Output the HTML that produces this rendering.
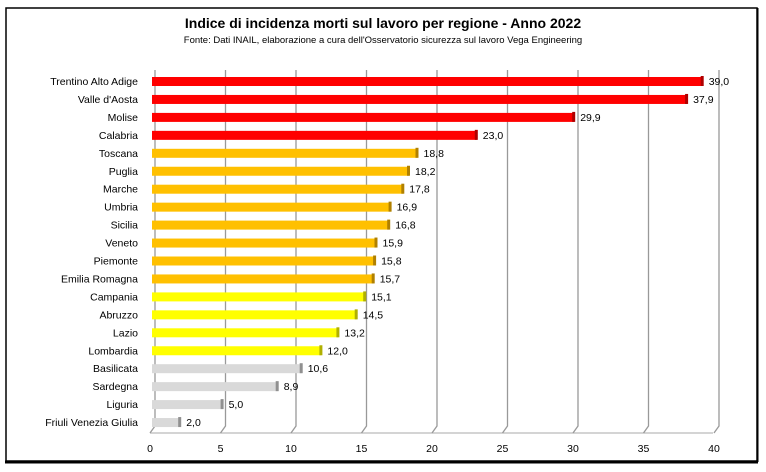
<!DOCTYPE html>
<html><head><style>
body{margin:0;background:#fff;}
svg{display:block;font-family:"Liberation Sans",sans-serif;}
.r{fill:#ff0000}.rc{fill:#b00000}.o{fill:#ffc000}.oc{fill:#b08000}.y{fill:#ffff00}.yc{fill:#b0b000}.g{fill:#d9d9d9}.gc{fill:#909090}
.l{text-anchor:end}
</style></head><body>
<svg width="766" height="472" xmlns="http://www.w3.org/2000/svg">
<rect width="766" height="472" fill="#fff"/>
<rect x="6" y="8" width="751" height="453" fill="none" stroke="#000" stroke-width="1.5"/>
<line x1="5" y1="462" x2="758" y2="462" stroke="#000" stroke-width="3"/>
<line x1="757.5" y1="8" x2="757.5" y2="462" stroke="#000" stroke-width="2"/>
<text x="383" y="28" text-anchor="middle" font-size="14" font-weight="bold">Indice di incidenza morti sul lavoro per regione - Anno 2022</text>
<text x="383" y="43" text-anchor="middle" font-size="9.5">Fonte: Dati INAIL, elaborazione a cura dell'Osservatorio sicurezza sul lavoro Vega Engineering</text>
<g stroke="#999" stroke-width="1.3" fill="none">
<line x1="150" y1="433" x2="713" y2="433" stroke="#bbb"/>
<path d="M155,70 V426 L150,433"/>
<path d="M225.5,70 V426 L220.5,433"/>
<path d="M296,70 V426 L291,433"/>
<path d="M366.5,70 V426 L361.5,433"/>
<path d="M437,70 V426 L432,433"/>
<path d="M507.5,70 V426 L502.5,433"/>
<path d="M578,70 V426 L573,433"/>
<path d="M648.5,70 V426 L643.5,433"/>
<path d="M719,70 V426 L714,433"/>
</g>
<g font-size="10.5" text-anchor="middle" fill="#000">
<text x="150" y="452">0</text><text x="220.5" y="452">5</text><text x="291" y="452">10</text><text x="361.5" y="452">15</text><text x="432" y="452">20</text><text x="502.5" y="452">25</text><text x="573" y="452">30</text><text x="643.5" y="452">35</text><text x="714" y="452">40</text>
</g>
<g font-size="10.5">
<g transform="translate(0,81)"><rect class="r" x="152" y="-4" width="550.7" height="9"/><rect class="rc" x="700.7" y="-5" width="3" height="10"/><text class="l" x="138" y="4">Trentino Alto Adige</text><text x="708.7" y="4">39,0</text></g>
<g transform="translate(0,98.95)"><rect class="r" x="152" y="-4" width="535.1" height="9"/><rect class="rc" x="685.1" y="-5" width="3" height="10"/><text class="l" x="138" y="4">Valle d'Aosta</text><text x="693.1" y="4">37,9</text></g>
<g transform="translate(0,116.9)"><rect class="r" x="152" y="-4" width="422.2" height="9"/><rect class="rc" x="572.2" y="-5" width="3" height="10"/><text class="l" x="138" y="4">Molise</text><text x="580.2" y="4">29,9</text></g>
<g transform="translate(0,134.85)"><rect class="r" x="152" y="-4" width="324.8" height="9"/><rect class="rc" x="474.8" y="-5" width="3" height="10"/><text class="l" x="138" y="4">Calabria</text><text x="482.8" y="4">23,0</text></g>
<g transform="translate(0,152.8)"><rect class="o" x="152" y="-4" width="265.5" height="9"/><rect class="oc" x="415.5" y="-5" width="3" height="10"/><text class="l" x="138" y="4">Toscana</text><text x="423.5" y="4">18,8</text></g>
<g transform="translate(0,170.75)"><rect class="o" x="152" y="-4" width="257" height="9"/><rect class="oc" x="407" y="-5" width="3" height="10"/><text class="l" x="138" y="4">Puglia</text><text x="415" y="4">18,2</text></g>
<g transform="translate(0,188.7)"><rect class="o" x="152" y="-4" width="251.3" height="9"/><rect class="oc" x="401.3" y="-5" width="3" height="10"/><text class="l" x="138" y="4">Marche</text><text x="409.3" y="4">17,8</text></g>
<g transform="translate(0,206.65)"><rect class="o" x="152" y="-4" width="238.6" height="9"/><rect class="oc" x="388.6" y="-5" width="3" height="10"/><text class="l" x="138" y="4">Umbria</text><text x="396.6" y="4">16,9</text></g>
<g transform="translate(0,224.6)"><rect class="o" x="152" y="-4" width="237.2" height="9"/><rect class="oc" x="387.2" y="-5" width="3" height="10"/><text class="l" x="138" y="4">Sicilia</text><text x="395.2" y="4">16,8</text></g>
<g transform="translate(0,242.55)"><rect class="o" x="152" y="-4" width="224.5" height="9"/><rect class="oc" x="374.5" y="-5" width="3" height="10"/><text class="l" x="138" y="4">Veneto</text><text x="382.5" y="4">15,9</text></g>
<g transform="translate(0,260.5)"><rect class="o" x="152" y="-4" width="223.1" height="9"/><rect class="oc" x="373.1" y="-5" width="3" height="10"/><text class="l" x="138" y="4">Piemonte</text><text x="381.1" y="4">15,8</text></g>
<g transform="translate(0,278.45)"><rect class="o" x="152" y="-4" width="221.7" height="9"/><rect class="oc" x="371.7" y="-5" width="3" height="10"/><text class="l" x="138" y="4">Emilia Romagna</text><text x="379.7" y="4">15,7</text></g>
<g transform="translate(0,296.4)"><rect class="y" x="152" y="-4" width="213.2" height="9"/><rect class="yc" x="363.2" y="-5" width="3" height="10"/><text class="l" x="138" y="4">Campania</text><text x="371.2" y="4">15,1</text></g>
<g transform="translate(0,314.35)"><rect class="y" x="152" y="-4" width="204.7" height="9"/><rect class="yc" x="354.7" y="-5" width="3" height="10"/><text class="l" x="138" y="4">Abruzzo</text><text x="362.7" y="4">14,5</text></g>
<g transform="translate(0,332.3)"><rect class="y" x="152" y="-4" width="186.4" height="9"/><rect class="yc" x="336.4" y="-5" width="3" height="10"/><text class="l" x="138" y="4">Lazio</text><text x="344.4" y="4">13,2</text></g>
<g transform="translate(0,350.25)"><rect class="y" x="152" y="-4" width="169.4" height="9"/><rect class="yc" x="319.4" y="-5" width="3" height="10"/><text class="l" x="138" y="4">Lombardia</text><text x="327.4" y="4">12,0</text></g>
<g transform="translate(0,368.2)"><rect class="g" x="152" y="-4" width="149.7" height="9"/><rect class="gc" x="299.7" y="-5" width="3" height="10"/><text class="l" x="138" y="4">Basilicata</text><text x="307.7" y="4">10,6</text></g>
<g transform="translate(0,386.15)"><rect class="g" x="152" y="-4" width="125.7" height="9"/><rect class="gc" x="275.7" y="-5" width="3" height="10"/><text class="l" x="138" y="4">Sardegna</text><text x="283.7" y="4">8,9</text></g>
<g transform="translate(0,404.1)"><rect class="g" x="152" y="-4" width="70.6" height="9"/><rect class="gc" x="220.6" y="-5" width="3" height="10"/><text class="l" x="138" y="4">Liguria</text><text x="228.6" y="4">5,0</text></g>
<g transform="translate(0,422.05)"><rect class="g" x="152" y="-4" width="28.2" height="9"/><rect class="gc" x="178.2" y="-5" width="3" height="10"/><text class="l" x="138" y="4">Friuli Venezia Giulia</text><text x="186.2" y="4">2,0</text></g>
</g>
</svg>
</body></html>
